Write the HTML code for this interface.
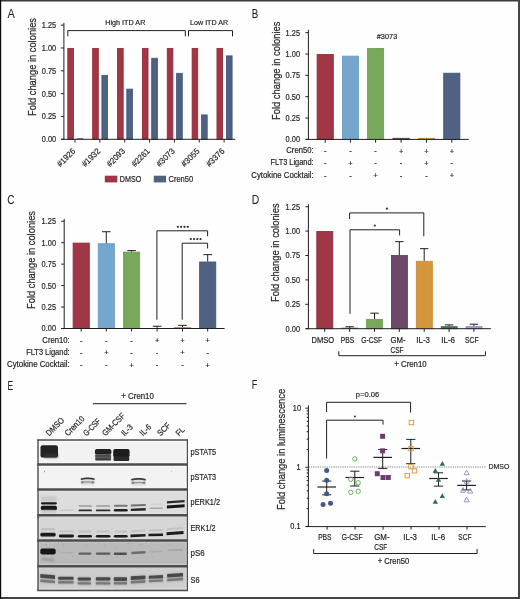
<!DOCTYPE html><html><head><meta charset="utf-8"><style>html,body{margin:0;padding:0;background:#fff;}svg{display:block;will-change:transform;filter:blur(0.25px);}body{-webkit-font-smoothing:antialiased;}text{font-family:"Liberation Sans",sans-serif;stroke:#231f20;stroke-width:0.2px;}</style></head><body>
<svg width="520" height="599" viewBox="0 0 520 599">
<rect x="0" y="0" width="520" height="599" fill="#fefefe"/>
<text x="7.40" y="18.00" font-size="12.2" fill="#231f20" textLength="7.30" lengthAdjust="spacingAndGlyphs" style="stroke-width:0.05px">A</text>
<text x="0.00" y="0.00" font-size="10.2" fill="#231f20" text-anchor="middle" textLength="98.00" lengthAdjust="spacingAndGlyphs" transform="translate(35.80,67.00) rotate(-90)">Fold change in colonies</text>
<rect x="67.80" y="48.38" width="5.65" height="90.92" fill="#a03745" stroke="#912335" stroke-width="0.8"/>
<rect x="76.60" y="138.20" width="6.50" height="1.10" fill="#506282"/>
<line x1="75.00" y1="139.30" x2="75.00" y2="142.50" stroke="#231f20" stroke-width="1"/>
<text x="0.00" y="0.00" font-size="8.4" fill="#231f20" text-anchor="end" textLength="22.00" lengthAdjust="spacingAndGlyphs" transform="translate(75.90,151.7) rotate(-45)">#1926</text>
<rect x="92.66" y="48.38" width="5.65" height="90.92" fill="#a03745" stroke="#912335" stroke-width="0.8"/>
<rect x="101.90" y="75.32" width="5.70" height="63.98" fill="#506282" stroke="#3d5479" stroke-width="0.8"/>
<line x1="99.85" y1="139.30" x2="99.85" y2="142.50" stroke="#231f20" stroke-width="1"/>
<text x="0.00" y="0.00" font-size="8.4" fill="#231f20" text-anchor="end" textLength="22.00" lengthAdjust="spacingAndGlyphs" transform="translate(100.75,151.7) rotate(-45)">#1932</text>
<rect x="117.52" y="48.38" width="5.65" height="90.92" fill="#a03745" stroke="#912335" stroke-width="0.8"/>
<rect x="126.80" y="89.11" width="5.70" height="50.19" fill="#506282" stroke="#3d5479" stroke-width="0.8"/>
<line x1="124.70" y1="139.30" x2="124.70" y2="142.50" stroke="#231f20" stroke-width="1"/>
<text x="0.00" y="0.00" font-size="8.4" fill="#231f20" text-anchor="end" textLength="22.00" lengthAdjust="spacingAndGlyphs" transform="translate(125.60,151.7) rotate(-45)">#2093</text>
<rect x="142.38" y="48.38" width="5.65" height="90.92" fill="#a03745" stroke="#912335" stroke-width="0.8"/>
<rect x="151.70" y="58.24" width="5.70" height="81.06" fill="#506282" stroke="#3d5479" stroke-width="0.8"/>
<line x1="149.55" y1="139.30" x2="149.55" y2="142.50" stroke="#231f20" stroke-width="1"/>
<text x="0.00" y="0.00" font-size="8.4" fill="#231f20" text-anchor="end" textLength="22.00" lengthAdjust="spacingAndGlyphs" transform="translate(150.45,151.7) rotate(-45)">#2261</text>
<rect x="167.24" y="48.38" width="5.65" height="90.92" fill="#a03745" stroke="#912335" stroke-width="0.8"/>
<rect x="176.60" y="73.31" width="5.70" height="65.99" fill="#506282" stroke="#3d5479" stroke-width="0.8"/>
<line x1="174.40" y1="139.30" x2="174.40" y2="142.50" stroke="#231f20" stroke-width="1"/>
<text x="0.00" y="0.00" font-size="8.4" fill="#231f20" text-anchor="end" textLength="22.00" lengthAdjust="spacingAndGlyphs" transform="translate(175.30,151.7) rotate(-45)">#3073</text>
<rect x="192.10" y="48.38" width="5.65" height="90.92" fill="#a03745" stroke="#912335" stroke-width="0.8"/>
<rect x="201.50" y="114.95" width="5.70" height="24.35" fill="#506282" stroke="#3d5479" stroke-width="0.8"/>
<line x1="199.25" y1="139.30" x2="199.25" y2="142.50" stroke="#231f20" stroke-width="1"/>
<text x="0.00" y="0.00" font-size="8.4" fill="#231f20" text-anchor="end" textLength="22.00" lengthAdjust="spacingAndGlyphs" transform="translate(200.15,151.7) rotate(-45)">#3055</text>
<rect x="216.96" y="48.38" width="5.65" height="90.92" fill="#a03745" stroke="#912335" stroke-width="0.8"/>
<rect x="226.40" y="55.87" width="5.70" height="83.43" fill="#506282" stroke="#3d5479" stroke-width="0.8"/>
<line x1="224.10" y1="139.30" x2="224.10" y2="142.50" stroke="#231f20" stroke-width="1"/>
<text x="0.00" y="0.00" font-size="8.4" fill="#231f20" text-anchor="end" textLength="22.00" lengthAdjust="spacingAndGlyphs" transform="translate(225.00,151.7) rotate(-45)">#3376</text>
<line x1="63.90" y1="22.80" x2="63.90" y2="139.80" stroke="#231f20" stroke-width="1"/>
<line x1="60.90" y1="139.30" x2="63.90" y2="139.30" stroke="#231f20" stroke-width="1"/>
<text x="56.20" y="142.25" font-size="8.6" fill="#231f20" text-anchor="end" textLength="14.39" lengthAdjust="spacingAndGlyphs">0.00</text>
<line x1="60.90" y1="116.47" x2="63.90" y2="116.47" stroke="#231f20" stroke-width="1"/>
<text x="56.20" y="119.42" font-size="8.6" fill="#231f20" text-anchor="end" textLength="14.39" lengthAdjust="spacingAndGlyphs">0.25</text>
<line x1="60.90" y1="93.64" x2="63.90" y2="93.64" stroke="#231f20" stroke-width="1"/>
<text x="56.20" y="96.59" font-size="8.6" fill="#231f20" text-anchor="end" textLength="14.39" lengthAdjust="spacingAndGlyphs">0.50</text>
<line x1="60.90" y1="70.81" x2="63.90" y2="70.81" stroke="#231f20" stroke-width="1"/>
<text x="56.20" y="73.76" font-size="8.6" fill="#231f20" text-anchor="end" textLength="14.39" lengthAdjust="spacingAndGlyphs">0.75</text>
<line x1="60.90" y1="47.98" x2="63.90" y2="47.98" stroke="#231f20" stroke-width="1"/>
<text x="56.20" y="50.93" font-size="8.6" fill="#231f20" text-anchor="end" textLength="14.39" lengthAdjust="spacingAndGlyphs">1.00</text>
<line x1="60.90" y1="25.15" x2="63.90" y2="25.15" stroke="#231f20" stroke-width="1"/>
<text x="56.20" y="28.10" font-size="8.6" fill="#231f20" text-anchor="end" textLength="14.39" lengthAdjust="spacingAndGlyphs">1.25</text>
<line x1="61.00" y1="139.30" x2="235.30" y2="139.30" stroke="#231f20" stroke-width="1"/>
<polyline points="67.80,36.30 67.80,30.60 185.30,30.60 185.30,36.30" stroke="#231f20" stroke-width="1" fill="none"/>
<text x="105.25" y="25.10" font-size="8.0" fill="#231f20" textLength="40.10" lengthAdjust="spacingAndGlyphs">High ITD AR</text>
<polyline points="188.50,36.30 188.50,30.60 232.50,30.60 232.50,36.30" stroke="#231f20" stroke-width="1" fill="none"/>
<text x="190.05" y="25.10" font-size="8.0" fill="#231f20" textLength="38.10" lengthAdjust="spacingAndGlyphs">Low ITD AR</text>
<rect x="104.80" y="175.70" width="12.50" height="6.70" fill="#a03745"/>
<text x="119.85" y="181.80" font-size="8.4" fill="#231f20" textLength="21.50" lengthAdjust="spacingAndGlyphs">DMSO</text>
<rect x="153.80" y="175.70" width="12.30" height="6.70" fill="#506282"/>
<text x="168.45" y="181.80" font-size="8.4" fill="#231f20" textLength="24.80" lengthAdjust="spacingAndGlyphs">Cren50</text>
<text x="251.80" y="17.70" font-size="12.2" fill="#231f20" textLength="6.50" lengthAdjust="spacingAndGlyphs" style="stroke-width:0.05px">B</text>
<text x="0.00" y="0.00" font-size="10.2" fill="#231f20" text-anchor="middle" textLength="98.40" lengthAdjust="spacingAndGlyphs" transform="translate(279.50,70.80) rotate(-90)">Fold change in colonies</text>
<rect x="317.10" y="54.40" width="16.20" height="85.00" fill="#a03745" stroke="#912335" stroke-width="0.8"/>
<line x1="325.20" y1="139.40" x2="325.20" y2="142.70" stroke="#231f20" stroke-width="1"/>
<rect x="342.40" y="56.11" width="16.20" height="83.29" fill="#74a6ce" stroke="#689bc5" stroke-width="0.8"/>
<line x1="350.50" y1="139.40" x2="350.50" y2="142.70" stroke="#231f20" stroke-width="1"/>
<rect x="367.50" y="48.42" width="16.20" height="90.98" fill="#78a85a" stroke="#699b4b" stroke-width="0.8"/>
<line x1="375.60" y1="139.40" x2="375.60" y2="142.70" stroke="#231f20" stroke-width="1"/>
<rect x="393.00" y="138.26" width="16.20" height="1.14" fill="#6c486a" stroke="#5b3859" stroke-width="0.8"/>
<line x1="401.10" y1="139.40" x2="401.10" y2="142.70" stroke="#231f20" stroke-width="1"/>
<rect x="418.40" y="138.26" width="16.20" height="1.14" fill="#d6963e" stroke="#c9882f" stroke-width="0.8"/>
<line x1="426.50" y1="139.40" x2="426.50" y2="142.70" stroke="#231f20" stroke-width="1"/>
<rect x="443.70" y="73.19" width="16.20" height="66.21" fill="#506282" stroke="#3d5479" stroke-width="0.8"/>
<line x1="451.80" y1="139.40" x2="451.80" y2="142.70" stroke="#231f20" stroke-width="1"/>
<line x1="308.40" y1="29.80" x2="308.40" y2="139.90" stroke="#231f20" stroke-width="1"/>
<line x1="305.40" y1="139.40" x2="308.40" y2="139.40" stroke="#231f20" stroke-width="1"/>
<text x="300.00" y="142.35" font-size="8.6" fill="#231f20" text-anchor="end" textLength="14.39" lengthAdjust="spacingAndGlyphs">0.00</text>
<line x1="305.40" y1="118.05" x2="308.40" y2="118.05" stroke="#231f20" stroke-width="1"/>
<text x="300.00" y="121.00" font-size="8.6" fill="#231f20" text-anchor="end" textLength="14.39" lengthAdjust="spacingAndGlyphs">0.25</text>
<line x1="305.40" y1="96.70" x2="308.40" y2="96.70" stroke="#231f20" stroke-width="1"/>
<text x="300.00" y="99.65" font-size="8.6" fill="#231f20" text-anchor="end" textLength="14.39" lengthAdjust="spacingAndGlyphs">0.50</text>
<line x1="305.40" y1="75.35" x2="308.40" y2="75.35" stroke="#231f20" stroke-width="1"/>
<text x="300.00" y="78.30" font-size="8.6" fill="#231f20" text-anchor="end" textLength="14.39" lengthAdjust="spacingAndGlyphs">0.75</text>
<line x1="305.40" y1="54.00" x2="308.40" y2="54.00" stroke="#231f20" stroke-width="1"/>
<text x="300.00" y="56.95" font-size="8.6" fill="#231f20" text-anchor="end" textLength="14.39" lengthAdjust="spacingAndGlyphs">1.00</text>
<line x1="305.40" y1="32.65" x2="308.40" y2="32.65" stroke="#231f20" stroke-width="1"/>
<text x="300.00" y="35.60" font-size="8.6" fill="#231f20" text-anchor="end" textLength="14.39" lengthAdjust="spacingAndGlyphs">1.25</text>
<line x1="305.80" y1="139.40" x2="468.80" y2="139.40" stroke="#231f20" stroke-width="1"/>
<text x="376.75" y="38.60" font-size="8.0" fill="#231f20" textLength="20.50" lengthAdjust="spacingAndGlyphs">#3073</text>
<text x="286.25" y="153.40" font-size="8.4" fill="#231f20" textLength="27.40" lengthAdjust="spacingAndGlyphs">Cren50:</text>
<text x="325.20" y="153.40" font-size="7.4" fill="#231f20" text-anchor="middle">-</text>
<text x="350.50" y="153.40" font-size="7.4" fill="#231f20" text-anchor="middle">-</text>
<text x="375.60" y="153.40" font-size="7.4" fill="#231f20" text-anchor="middle">-</text>
<text x="401.10" y="154.00" font-size="7.4" fill="#231f20" text-anchor="middle">+</text>
<text x="426.50" y="154.00" font-size="7.4" fill="#231f20" text-anchor="middle">+</text>
<text x="451.80" y="154.00" font-size="7.4" fill="#231f20" text-anchor="middle">+</text>
<text x="270.55" y="165.40" font-size="8.4" fill="#231f20" textLength="43.10" lengthAdjust="spacingAndGlyphs">FLT3 Ligand:</text>
<text x="325.20" y="165.40" font-size="7.4" fill="#231f20" text-anchor="middle">-</text>
<text x="350.50" y="166.00" font-size="7.4" fill="#231f20" text-anchor="middle">+</text>
<text x="375.60" y="165.40" font-size="7.4" fill="#231f20" text-anchor="middle">-</text>
<text x="401.10" y="165.40" font-size="7.4" fill="#231f20" text-anchor="middle">-</text>
<text x="426.50" y="166.00" font-size="7.4" fill="#231f20" text-anchor="middle">+</text>
<text x="451.80" y="165.40" font-size="7.4" fill="#231f20" text-anchor="middle">-</text>
<text x="251.25" y="177.60" font-size="8.4" fill="#231f20" textLength="62.40" lengthAdjust="spacingAndGlyphs">Cytokine Cocktail:</text>
<text x="325.20" y="177.60" font-size="7.4" fill="#231f20" text-anchor="middle">-</text>
<text x="350.50" y="177.60" font-size="7.4" fill="#231f20" text-anchor="middle">-</text>
<text x="375.60" y="178.20" font-size="7.4" fill="#231f20" text-anchor="middle">+</text>
<text x="401.10" y="177.60" font-size="7.4" fill="#231f20" text-anchor="middle">-</text>
<text x="426.50" y="177.60" font-size="7.4" fill="#231f20" text-anchor="middle">-</text>
<text x="451.80" y="178.20" font-size="7.4" fill="#231f20" text-anchor="middle">+</text>
<text x="7.20" y="203.80" font-size="12.2" fill="#231f20" textLength="7.30" lengthAdjust="spacingAndGlyphs" style="stroke-width:0.05px">C</text>
<text x="0.00" y="0.00" font-size="10.2" fill="#231f20" text-anchor="middle" textLength="98.00" lengthAdjust="spacingAndGlyphs" transform="translate(34.70,260.00) rotate(-90)">Fold change in colonies</text>
<rect x="73.10" y="243.10" width="16.20" height="85.40" fill="#a03745" stroke="#912335" stroke-width="0.8"/>
<line x1="81.20" y1="328.50" x2="81.20" y2="331.50" stroke="#231f20" stroke-width="1"/>
<rect x="98.20" y="243.70" width="16.20" height="84.80" fill="#74a6ce" stroke="#689bc5" stroke-width="0.8"/>
<line x1="106.30" y1="243.30" x2="106.30" y2="231.72" stroke="#231f20" stroke-width="1"/>
<line x1="102.00" y1="231.72" x2="110.60" y2="231.72" stroke="#231f20" stroke-width="1"/>
<line x1="106.30" y1="328.50" x2="106.30" y2="331.50" stroke="#231f20" stroke-width="1"/>
<rect x="123.50" y="252.11" width="16.20" height="76.39" fill="#78a85a" stroke="#699b4b" stroke-width="0.8"/>
<line x1="131.60" y1="251.71" x2="131.60" y2="250.59" stroke="#231f20" stroke-width="1"/>
<line x1="127.30" y1="250.59" x2="135.90" y2="250.59" stroke="#231f20" stroke-width="1"/>
<line x1="131.60" y1="328.50" x2="131.60" y2="331.50" stroke="#231f20" stroke-width="1"/>
<rect x="148.60" y="327.99" width="17.00" height="0.51" fill="#3b2a3f"/>
<line x1="157.10" y1="327.99" x2="157.10" y2="326.27" stroke="#231f20" stroke-width="1"/>
<line x1="152.80" y1="326.27" x2="161.40" y2="326.27" stroke="#231f20" stroke-width="1"/>
<line x1="157.10" y1="328.50" x2="157.10" y2="331.50" stroke="#231f20" stroke-width="1"/>
<rect x="174.40" y="327.53" width="16.20" height="0.97" fill="#d6963e" stroke="#c9882f" stroke-width="0.8"/>
<line x1="182.50" y1="327.13" x2="182.50" y2="325.33" stroke="#231f20" stroke-width="1"/>
<line x1="178.20" y1="325.33" x2="186.80" y2="325.33" stroke="#231f20" stroke-width="1"/>
<line x1="182.50" y1="328.50" x2="182.50" y2="331.50" stroke="#231f20" stroke-width="1"/>
<rect x="199.60" y="261.98" width="16.20" height="66.52" fill="#506282" stroke="#3d5479" stroke-width="0.8"/>
<line x1="207.70" y1="261.58" x2="207.70" y2="254.63" stroke="#231f20" stroke-width="1"/>
<line x1="203.40" y1="254.63" x2="212.00" y2="254.63" stroke="#231f20" stroke-width="1"/>
<line x1="207.70" y1="328.50" x2="207.70" y2="331.50" stroke="#231f20" stroke-width="1"/>
<line x1="64.20" y1="218.80" x2="64.20" y2="329.00" stroke="#231f20" stroke-width="1"/>
<line x1="61.20" y1="328.50" x2="64.20" y2="328.50" stroke="#231f20" stroke-width="1"/>
<text x="56.00" y="331.45" font-size="8.6" fill="#231f20" text-anchor="end" textLength="14.39" lengthAdjust="spacingAndGlyphs">0.00</text>
<line x1="61.20" y1="307.05" x2="64.20" y2="307.05" stroke="#231f20" stroke-width="1"/>
<text x="56.00" y="310.00" font-size="8.6" fill="#231f20" text-anchor="end" textLength="14.39" lengthAdjust="spacingAndGlyphs">0.25</text>
<line x1="61.20" y1="285.60" x2="64.20" y2="285.60" stroke="#231f20" stroke-width="1"/>
<text x="56.00" y="288.55" font-size="8.6" fill="#231f20" text-anchor="end" textLength="14.39" lengthAdjust="spacingAndGlyphs">0.50</text>
<line x1="61.20" y1="264.15" x2="64.20" y2="264.15" stroke="#231f20" stroke-width="1"/>
<text x="56.00" y="267.10" font-size="8.6" fill="#231f20" text-anchor="end" textLength="14.39" lengthAdjust="spacingAndGlyphs">0.75</text>
<line x1="61.20" y1="242.70" x2="64.20" y2="242.70" stroke="#231f20" stroke-width="1"/>
<text x="56.00" y="245.65" font-size="8.6" fill="#231f20" text-anchor="end" textLength="14.39" lengthAdjust="spacingAndGlyphs">1.00</text>
<line x1="61.20" y1="221.25" x2="64.20" y2="221.25" stroke="#231f20" stroke-width="1"/>
<text x="56.00" y="224.20" font-size="8.6" fill="#231f20" text-anchor="end" textLength="14.39" lengthAdjust="spacingAndGlyphs">1.25</text>
<line x1="61.20" y1="328.50" x2="224.60" y2="328.50" stroke="#231f20" stroke-width="1"/>
<polyline points="156.90,319.70 156.90,230.80 207.60,230.80 207.60,236.20" stroke="#231f20" stroke-width="1" fill="none"/>
<polyline points="182.20,319.70 182.20,243.20 207.60,243.20 207.60,248.50" stroke="#231f20" stroke-width="1" fill="none"/>
<circle cx="177.90" cy="226.8" r="1.15" fill="#333"/>
<circle cx="190.80" cy="239.1" r="1.15" fill="#333"/>
<circle cx="181.20" cy="226.8" r="1.15" fill="#333"/>
<circle cx="194.05" cy="239.1" r="1.15" fill="#333"/>
<circle cx="184.50" cy="226.8" r="1.15" fill="#333"/>
<circle cx="197.30" cy="239.1" r="1.15" fill="#333"/>
<circle cx="187.80" cy="226.8" r="1.15" fill="#333"/>
<circle cx="200.55" cy="239.1" r="1.15" fill="#333"/>
<text x="42.35" y="342.50" font-size="8.4" fill="#231f20" textLength="27.30" lengthAdjust="spacingAndGlyphs">Cren10:</text>
<text x="81.20" y="342.50" font-size="7.4" fill="#231f20" text-anchor="middle">-</text>
<text x="106.30" y="342.50" font-size="7.4" fill="#231f20" text-anchor="middle">-</text>
<text x="131.60" y="342.50" font-size="7.4" fill="#231f20" text-anchor="middle">-</text>
<text x="157.10" y="343.10" font-size="7.4" fill="#231f20" text-anchor="middle">+</text>
<text x="182.50" y="343.10" font-size="7.4" fill="#231f20" text-anchor="middle">+</text>
<text x="207.70" y="343.10" font-size="7.4" fill="#231f20" text-anchor="middle">+</text>
<text x="26.15" y="354.70" font-size="8.4" fill="#231f20" textLength="43.50" lengthAdjust="spacingAndGlyphs">FLT3 Ligand:</text>
<text x="81.20" y="354.70" font-size="7.4" fill="#231f20" text-anchor="middle">-</text>
<text x="106.30" y="355.30" font-size="7.4" fill="#231f20" text-anchor="middle">+</text>
<text x="131.60" y="354.70" font-size="7.4" fill="#231f20" text-anchor="middle">-</text>
<text x="157.10" y="354.70" font-size="7.4" fill="#231f20" text-anchor="middle">-</text>
<text x="182.50" y="355.30" font-size="7.4" fill="#231f20" text-anchor="middle">+</text>
<text x="207.70" y="354.70" font-size="7.4" fill="#231f20" text-anchor="middle">-</text>
<text x="7.05" y="367.00" font-size="8.4" fill="#231f20" textLength="62.60" lengthAdjust="spacingAndGlyphs">Cytokine Cocktail:</text>
<text x="81.20" y="367.00" font-size="7.4" fill="#231f20" text-anchor="middle">-</text>
<text x="106.30" y="367.00" font-size="7.4" fill="#231f20" text-anchor="middle">-</text>
<text x="131.60" y="367.60" font-size="7.4" fill="#231f20" text-anchor="middle">+</text>
<text x="157.10" y="367.00" font-size="7.4" fill="#231f20" text-anchor="middle">-</text>
<text x="182.50" y="367.00" font-size="7.4" fill="#231f20" text-anchor="middle">-</text>
<text x="207.70" y="367.60" font-size="7.4" fill="#231f20" text-anchor="middle">+</text>
<text x="251.80" y="203.50" font-size="12.2" fill="#231f20" textLength="7.50" lengthAdjust="spacingAndGlyphs" style="stroke-width:0.05px">D</text>
<text x="0.00" y="0.00" font-size="10.2" fill="#231f20" text-anchor="middle" textLength="98.60" lengthAdjust="spacingAndGlyphs" transform="translate(279.20,252.70) rotate(-90)">Fold change in colonies</text>
<rect x="316.80" y="231.50" width="16.00" height="97.20" fill="#a03745" stroke="#912335" stroke-width="0.8"/>
<line x1="324.70" y1="328.70" x2="324.70" y2="331.90" stroke="#231f20" stroke-width="1"/>
<rect x="341.30" y="327.72" width="16.80" height="0.98" fill="#506282"/>
<line x1="349.60" y1="327.72" x2="349.60" y2="326.75" stroke="#231f20" stroke-width="1"/>
<line x1="345.40" y1="326.75" x2="353.80" y2="326.75" stroke="#231f20" stroke-width="1"/>
<line x1="349.60" y1="328.70" x2="349.60" y2="331.90" stroke="#231f20" stroke-width="1"/>
<rect x="366.60" y="319.34" width="16.00" height="9.36" fill="#78a85a" stroke="#699b4b" stroke-width="0.8"/>
<line x1="374.50" y1="318.94" x2="374.50" y2="313.18" stroke="#231f20" stroke-width="1"/>
<line x1="370.30" y1="313.18" x2="378.70" y2="313.18" stroke="#231f20" stroke-width="1"/>
<line x1="374.50" y1="328.70" x2="374.50" y2="331.90" stroke="#231f20" stroke-width="1"/>
<rect x="391.40" y="255.51" width="16.00" height="73.19" fill="#6c486a" stroke="#5b3859" stroke-width="0.8"/>
<line x1="399.30" y1="255.11" x2="399.30" y2="241.64" stroke="#231f20" stroke-width="1"/>
<line x1="395.10" y1="241.64" x2="403.50" y2="241.64" stroke="#231f20" stroke-width="1"/>
<line x1="399.30" y1="328.70" x2="399.30" y2="331.90" stroke="#231f20" stroke-width="1"/>
<rect x="416.30" y="261.27" width="16.00" height="67.43" fill="#d6963e" stroke="#c9882f" stroke-width="0.8"/>
<line x1="424.20" y1="260.87" x2="424.20" y2="248.67" stroke="#231f20" stroke-width="1"/>
<line x1="420.00" y1="248.67" x2="428.40" y2="248.67" stroke="#231f20" stroke-width="1"/>
<line x1="424.20" y1="328.70" x2="424.20" y2="331.90" stroke="#231f20" stroke-width="1"/>
<rect x="441.20" y="326.66" width="16.00" height="2.04" fill="#3d7a5a" stroke="#2d6a4a" stroke-width="0.8"/>
<line x1="449.10" y1="326.26" x2="449.10" y2="324.89" stroke="#231f20" stroke-width="1"/>
<line x1="444.90" y1="324.89" x2="453.30" y2="324.89" stroke="#231f20" stroke-width="1"/>
<line x1="449.10" y1="328.70" x2="449.10" y2="331.90" stroke="#231f20" stroke-width="1"/>
<rect x="466.00" y="326.66" width="16.00" height="2.04" fill="#a09ad6" stroke="#8f89c8" stroke-width="0.8"/>
<line x1="473.90" y1="326.26" x2="473.90" y2="324.21" stroke="#231f20" stroke-width="1"/>
<line x1="469.70" y1="324.21" x2="478.10" y2="324.21" stroke="#231f20" stroke-width="1"/>
<line x1="473.90" y1="328.70" x2="473.90" y2="331.90" stroke="#231f20" stroke-width="1"/>
<line x1="308.40" y1="204.20" x2="308.40" y2="329.20" stroke="#231f20" stroke-width="1"/>
<line x1="305.40" y1="328.70" x2="308.40" y2="328.70" stroke="#231f20" stroke-width="1"/>
<text x="300.00" y="331.65" font-size="8.6" fill="#231f20" text-anchor="end" textLength="14.39" lengthAdjust="spacingAndGlyphs">0.00</text>
<line x1="305.40" y1="304.30" x2="308.40" y2="304.30" stroke="#231f20" stroke-width="1"/>
<text x="300.00" y="307.25" font-size="8.6" fill="#231f20" text-anchor="end" textLength="14.39" lengthAdjust="spacingAndGlyphs">0.25</text>
<line x1="305.40" y1="279.90" x2="308.40" y2="279.90" stroke="#231f20" stroke-width="1"/>
<text x="300.00" y="282.85" font-size="8.6" fill="#231f20" text-anchor="end" textLength="14.39" lengthAdjust="spacingAndGlyphs">0.50</text>
<line x1="305.40" y1="255.50" x2="308.40" y2="255.50" stroke="#231f20" stroke-width="1"/>
<text x="300.00" y="258.45" font-size="8.6" fill="#231f20" text-anchor="end" textLength="14.39" lengthAdjust="spacingAndGlyphs">0.75</text>
<line x1="305.40" y1="231.10" x2="308.40" y2="231.10" stroke="#231f20" stroke-width="1"/>
<text x="300.00" y="234.05" font-size="8.6" fill="#231f20" text-anchor="end" textLength="14.39" lengthAdjust="spacingAndGlyphs">1.00</text>
<line x1="305.40" y1="206.70" x2="308.40" y2="206.70" stroke="#231f20" stroke-width="1"/>
<text x="300.00" y="209.65" font-size="8.6" fill="#231f20" text-anchor="end" textLength="14.39" lengthAdjust="spacingAndGlyphs">1.25</text>
<line x1="305.80" y1="328.70" x2="490.90" y2="328.70" stroke="#231f20" stroke-width="1"/>
<text x="311.45" y="342.50" font-size="8.4" fill="#231f20" textLength="22.70" lengthAdjust="spacingAndGlyphs">DMSO</text>
<text x="340.75" y="342.50" font-size="8.4" fill="#231f20" textLength="13.40" lengthAdjust="spacingAndGlyphs">PBS</text>
<text x="361.15" y="342.50" font-size="8.4" fill="#231f20" textLength="21.00" lengthAdjust="spacingAndGlyphs">G-CSF</text>
<text x="390.45" y="342.50" font-size="8.4" fill="#231f20" textLength="15.10" lengthAdjust="spacingAndGlyphs">GM-</text>
<text x="416.35" y="342.50" font-size="8.4" fill="#231f20" textLength="13.60" lengthAdjust="spacingAndGlyphs">IL-3</text>
<text x="441.35" y="342.50" font-size="8.4" fill="#231f20" textLength="13.60" lengthAdjust="spacingAndGlyphs">IL-6</text>
<text x="465.05" y="342.50" font-size="8.4" fill="#231f20" textLength="13.60" lengthAdjust="spacingAndGlyphs">SCF</text>
<text x="390.45" y="352.50" font-size="8.4" fill="#231f20" textLength="13.20" lengthAdjust="spacingAndGlyphs">CSF</text>
<polyline points="349.60,219.00 349.60,212.90 423.80,212.90 423.80,236.30" stroke="#231f20" stroke-width="1" fill="none"/>
<polyline points="350.00,313.80 350.00,229.80 399.60,229.80 399.60,235.40" stroke="#231f20" stroke-width="1" fill="none"/>
<circle cx="386.9" cy="208.7" r="1.1" fill="#333"/>
<circle cx="374.8" cy="225.6" r="1.1" fill="#333"/>
<polyline points="338.80,351.30 338.80,355.70 485.40,355.70 485.40,351.30" stroke="#231f20" stroke-width="1" fill="none"/>
<text x="394.25" y="366.50" font-size="8.4" fill="#231f20" textLength="32.40" lengthAdjust="spacingAndGlyphs">+ Cren10</text>
<text x="7.60" y="389.60" font-size="12.2" fill="#231f20" textLength="5.70" lengthAdjust="spacingAndGlyphs" style="stroke-width:0.05px">E</text>
<text x="121.35" y="398.80" font-size="8.4" fill="#231f20" textLength="32.50" lengthAdjust="spacingAndGlyphs">+ Cren10</text>
<line x1="92.90" y1="403.70" x2="186.50" y2="403.70" stroke="#444" stroke-width="1.3"/>
<text x="0.00" y="0.00" font-size="8.4" fill="#231f20" textLength="22.18" lengthAdjust="spacingAndGlyphs" transform="translate(49.17,436.5) rotate(-45)">DMSO</text>
<text x="0.00" y="0.00" font-size="8.4" fill="#231f20" textLength="24.24" lengthAdjust="spacingAndGlyphs" transform="translate(67.92,436.5) rotate(-45)">Cren10</text>
<text x="0.00" y="0.00" font-size="8.4" fill="#231f20" textLength="20.90" lengthAdjust="spacingAndGlyphs" transform="translate(86.38,436.5) rotate(-45)">G-CSF</text>
<text x="0.00" y="0.00" font-size="8.4" fill="#231f20" textLength="28.49" lengthAdjust="spacingAndGlyphs" transform="translate(105.42,436.5) rotate(-45)">GM-CSF</text>
<text x="0.00" y="0.00" font-size="8.4" fill="#231f20" textLength="12.74" lengthAdjust="spacingAndGlyphs" transform="translate(124.38,436.5) rotate(-45)">IL-3</text>
<text x="0.00" y="0.00" font-size="8.4" fill="#231f20" textLength="12.74" lengthAdjust="spacingAndGlyphs" transform="translate(142.93,436.5) rotate(-45)">IL-6</text>
<text x="0.00" y="0.00" font-size="8.4" fill="#231f20" textLength="14.78" lengthAdjust="spacingAndGlyphs" transform="translate(160.48,436.5) rotate(-45)">SCF</text>
<text x="0.00" y="0.00" font-size="8.4" fill="#231f20" textLength="8.63" lengthAdjust="spacingAndGlyphs" transform="translate(179.03,436.5) rotate(-45)">FL</text>
<rect x="38.00" y="439.90" width="149.40" height="24.70" fill="#f2f2f2"/>
<rect x="38.90" y="441.40" width="147.30" height="21.70" fill="none" stroke="#fbfbfb" stroke-width="0.8"/>
<rect x="38.00" y="464.60" width="149.40" height="25.00" fill="#f3f3f3"/>
<rect x="38.90" y="466.10" width="147.30" height="22.00" fill="none" stroke="#fcfcfc" stroke-width="0.8"/>
<rect x="38.00" y="489.60" width="149.40" height="25.70" fill="#dddddd"/>
<rect x="38.90" y="491.10" width="147.30" height="22.70" fill="none" stroke="#ececec" stroke-width="0.8"/>
<rect x="38.00" y="515.30" width="149.40" height="25.20" fill="#d6d6d6"/>
<rect x="38.90" y="516.80" width="147.30" height="22.20" fill="none" stroke="#e6e6e6" stroke-width="0.8"/>
<rect x="38.00" y="540.50" width="149.40" height="25.70" fill="#bababa"/>
<rect x="38.90" y="542.00" width="147.30" height="22.70" fill="none" stroke="#d6d6d6" stroke-width="0.8"/>
<rect x="38.00" y="566.20" width="149.40" height="24.20" fill="#cecece"/>
<rect x="38.90" y="567.70" width="147.30" height="21.20" fill="none" stroke="#dedede" stroke-width="0.8"/>
<defs><filter id="bl" x="-20%" y="-60%" width="140%" height="220%"><feGaussianBlur stdDeviation="0.7"/></filter><filter id="bl2" x="-20%" y="-60%" width="140%" height="220%"><feGaussianBlur stdDeviation="1.0"/></filter><filter id="bl3" x="-20%" y="-60%" width="140%" height="220%"><feGaussianBlur stdDeviation="0.5"/></filter></defs>
<rect x="40.50" y="445.20" width="17.50" height="12.40" rx="2.2" fill="#202020" filter="url(#bl)"/>
<rect x="44.00" y="453.80" width="13.50" height="3.80" rx="1.2" fill="#303030" filter="url(#bl2)"/>
<rect x="94.90" y="449.00" width="16.50" height="5.80" rx="2" fill="#202020" filter="url(#bl)"/>
<rect x="95.20" y="454.20" width="15.90" height="6.40" rx="1.2" fill="#606060" filter="url(#bl)"/>
<rect x="95.50" y="455.20" width="15.30" height="1.60" rx="1.2" fill="#444" filter="url(#bl)"/>
<rect x="95.50" y="458.20" width="15.30" height="2.00" rx="1.2" fill="#3a3a3a" filter="url(#bl)"/>
<rect x="113.20" y="449.00" width="16.40" height="8.60" rx="2" fill="#1c1c1c" filter="url(#bl)"/>
<rect x="113.50" y="456.80" width="15.80" height="4.10" rx="1.2" fill="#2c2c2c" filter="url(#bl)"/>
<path d="M80.80,479.30 Q87.70,477.50 94.60,479.30" stroke="#222" stroke-width="1.8" fill="none" filter="url(#bl3)"/>
<rect x="81.10" y="480.00" width="13.20" height="4.40" rx="1.2" fill="#d2d2d2" filter="url(#bl2)"/>
<path d="M81.30,482.40 Q87.70,481.40 94.10,482.40" stroke="#9a9a9a" stroke-width="1.1" fill="none" filter="url(#bl3)"/>
<rect x="81.10" y="481.00" width="2.70" height="2.60" rx="1.2" fill="#8a8a8a" filter="url(#bl3)"/>
<rect x="91.60" y="481.00" width="2.70" height="2.60" rx="1.2" fill="#8a8a8a" filter="url(#bl3)"/>
<path d="M131.30,479.80 Q138.50,478.00 145.70,479.80" stroke="#222" stroke-width="1.8" fill="none" filter="url(#bl3)"/>
<rect x="131.60" y="480.50" width="13.80" height="4.40" rx="1.2" fill="#d2d2d2" filter="url(#bl2)"/>
<path d="M131.80,482.90 Q138.50,481.90 145.20,482.90" stroke="#9a9a9a" stroke-width="1.1" fill="none" filter="url(#bl3)"/>
<rect x="131.60" y="481.50" width="2.70" height="2.60" rx="1.2" fill="#8a8a8a" filter="url(#bl3)"/>
<rect x="142.70" y="481.50" width="2.70" height="2.60" rx="1.2" fill="#8a8a8a" filter="url(#bl3)"/>
<circle cx="44.5" cy="471.7" r="0.6" fill="#888"/>
<circle cx="171.5" cy="471.5" r="0.5" fill="#aaa"/>
<rect x="41.00" y="496.00" width="15.80" height="6.00" rx="1.2" fill="#cacaca" filter="url(#bl2)"/>
<rect x="40.90" y="502.20" width="16.00" height="2.30" rx="1.2" fill="#1e1e1e" filter="url(#bl3)"/>
<rect x="40.90" y="505.80" width="16.00" height="4.40" rx="1.5" fill="#161616" filter="url(#bl)"/>
<rect x="41.50" y="510.40" width="15.00" height="2.60" rx="1.2" fill="#c4c4c4" filter="url(#bl2)"/>
<rect x="60.00" y="509.50" width="13.50" height="1.30" rx="1.2" fill="#c6c6c6" filter="url(#bl)"/>
<rect x="78.50" y="505.20" width="13.50" height="1.60" rx="1.2" fill="#9a9a9a" filter="url(#bl)"/>
<rect x="78.50" y="509.50" width="13.50" height="1.80" rx="1.2" fill="#2e2e2e" filter="url(#bl3)"/>
<rect x="95.80" y="505.20" width="14.60" height="1.60" rx="1.2" fill="#9a9a9a" filter="url(#bl)"/>
<rect x="95.80" y="509.50" width="14.60" height="1.80" rx="1.2" fill="#2e2e2e" filter="url(#bl3)"/>
<rect x="113.80" y="504.80" width="13.90" height="2.00" rx="1.2" fill="#777" filter="url(#bl)"/>
<rect x="113.80" y="509.00" width="13.90" height="2.40" rx="1.2" fill="#222" filter="url(#bl3)"/>
<polygon points="130.80,504.60 145.70,504.00 145.70,506.00 130.80,506.60" fill="#707070" filter="url(#bl)"/>
<polygon points="130.80,508.70 145.70,508.10 145.70,510.40 130.80,511.00" fill="#222" filter="url(#bl3)"/>
<rect x="149.70" y="503.50" width="13.30" height="1.50" rx="1.2" fill="#d0d0d0" filter="url(#bl)"/>
<rect x="149.70" y="507.60" width="13.30" height="1.40" rx="1.2" fill="#a8a8a8" filter="url(#bl)"/>
<polygon points="166.90,501.30 184.60,500.10 184.60,502.30 166.90,503.50" fill="#2c2c2c" filter="url(#bl3)"/>
<polygon points="166.90,505.40 184.60,504.20 184.60,507.20 166.90,508.40" fill="#161616" filter="url(#bl3)"/>
<rect x="40.80" y="528.00" width="14.40" height="2.50" rx="1.2" fill="#c2c2c2" filter="url(#bl)"/>
<rect x="40.30" y="532.80" width="15.40" height="3.60" rx="1.5" fill="#1c1c1c" filter="url(#bl)"/>
<rect x="59.30" y="530.50" width="14.20" height="1.80" rx="1.2" fill="#c2c2c2" filter="url(#bl)"/>
<rect x="58.80" y="534.60" width="15.20" height="2.80" rx="1.5" fill="#1c1c1c" filter="url(#bl)"/>
<rect x="78.30" y="530.50" width="13.20" height="2.00" rx="1.2" fill="#c2c2c2" filter="url(#bl)"/>
<rect x="77.80" y="535.00" width="14.20" height="2.60" rx="1.5" fill="#1c1c1c" filter="url(#bl)"/>
<rect x="96.30" y="530.50" width="13.60" height="2.00" rx="1.2" fill="#c2c2c2" filter="url(#bl)"/>
<rect x="95.80" y="535.00" width="14.60" height="2.60" rx="1.5" fill="#1c1c1c" filter="url(#bl)"/>
<rect x="114.30" y="530.60" width="12.90" height="1.80" rx="1.2" fill="#c2c2c2" filter="url(#bl)"/>
<rect x="113.80" y="534.90" width="13.90" height="2.50" rx="1.5" fill="#1c1c1c" filter="url(#bl)"/>
<polygon points="131.00,530.20 145.00,529.60 145.00,531.60 131.00,532.20" fill="#c2c2c2" filter="url(#bl)"/>
<polygon points="130.50,534.60 145.50,534.00 145.50,536.60 130.50,537.20" fill="#1c1c1c" filter="url(#bl)"/>
<polygon points="149.00,529.60 162.50,529.20 162.50,531.20 149.00,531.60" fill="#c2c2c2" filter="url(#bl)"/>
<polygon points="148.50,533.80 163.00,533.40 163.00,535.90 148.50,536.30" fill="#1c1c1c" filter="url(#bl)"/>
<polygon points="167.00,528.20 183.00,527.00 183.00,529.10 167.00,530.30" fill="#c2c2c2" filter="url(#bl)"/>
<polygon points="166.50,532.30 183.50,531.10 183.50,534.10 166.50,535.30" fill="#1c1c1c" filter="url(#bl)"/>
<rect x="37.5" y="517" width="1.6" height="1.2" fill="#333"/>
<rect x="40.30" y="548.60" width="15.40" height="5.80" rx="2" fill="#181818" filter="url(#bl)"/>
<polygon points="42.00,557.80 54.00,559.00 54.00,561.20 42.00,560.00" fill="#909090" filter="url(#bl2)"/>
<rect x="59.40" y="552.00" width="14.10" height="1.60" rx="1.2" fill="#b0b0b0" filter="url(#bl)"/>
<rect x="78.50" y="552.50" width="12.90" height="2.30" rx="1.2" fill="#606060" filter="url(#bl)"/>
<rect x="95.80" y="552.50" width="14.60" height="2.30" rx="1.2" fill="#5c5c5c" filter="url(#bl)"/>
<rect x="113.80" y="552.60" width="13.20" height="2.40" rx="1.2" fill="#505050" filter="url(#bl)"/>
<polygon points="131.50,551.80 145.40,551.00 145.40,553.40 131.50,554.20" fill="#6a6a6a" filter="url(#bl)"/>
<polygon points="149.20,550.90 163.00,550.60 163.00,552.20 149.20,552.50" fill="#ababab" filter="url(#bl)"/>
<polygon points="167.70,549.40 183.00,548.80 183.00,550.70 167.70,551.30" fill="#a6a6a6" filter="url(#bl)"/>
<circle cx="46" cy="544.5" r="0.45" fill="#888"/>
<circle cx="54.6" cy="546.5" r="0.45" fill="#888"/>
<circle cx="63" cy="545.3" r="0.45" fill="#888"/>
<circle cx="72" cy="544" r="0.45" fill="#888"/>
<circle cx="86" cy="545" r="0.45" fill="#888"/>
<circle cx="99" cy="543.7" r="0.45" fill="#888"/>
<circle cx="104.8" cy="545.3" r="0.45" fill="#888"/>
<circle cx="116" cy="548" r="0.45" fill="#888"/>
<circle cx="128" cy="543.5" r="0.45" fill="#888"/>
<circle cx="140" cy="544.5" r="0.45" fill="#888"/>
<circle cx="170" cy="545" r="0.45" fill="#888"/>
<circle cx="153" cy="557" r="0.45" fill="#888"/>
<circle cx="71.5" cy="552.6" r="0.45" fill="#888"/>
<circle cx="58" cy="551" r="0.45" fill="#888"/>
<circle cx="88" cy="553" r="0.45" fill="#888"/>
<polygon points="40.30,573.70 55.00,574.90 55.00,583.70 40.30,582.50" fill="#a8a8a8" filter="url(#bl2)"/>
<polygon points="40.30,574.00 55.00,575.20 55.00,579.00 40.30,577.80" fill="#484848" filter="url(#bl)"/>
<polygon points="40.30,579.60 55.00,580.80 55.00,583.20 40.30,582.00" fill="#787878" filter="url(#bl)"/>
<rect x="58.20" y="576.50" width="15.30" height="7.50" rx="0.5" fill="#a8a8a8" filter="url(#bl2)"/>
<rect x="58.20" y="576.80" width="15.30" height="3.00" rx="0.8" fill="#484848" filter="url(#bl)"/>
<rect x="58.20" y="581.00" width="15.30" height="2.50" rx="0.5" fill="#787878" filter="url(#bl)"/>
<rect x="77.80" y="577.10" width="13.00" height="7.90" rx="0.5" fill="#a8a8a8" filter="url(#bl2)"/>
<rect x="77.80" y="577.40" width="13.00" height="3.10" rx="0.8" fill="#484848" filter="url(#bl)"/>
<rect x="77.80" y="582.30" width="13.00" height="2.20" rx="0.5" fill="#787878" filter="url(#bl)"/>
<rect x="95.80" y="576.90" width="14.60" height="8.00" rx="0.5" fill="#a8a8a8" filter="url(#bl2)"/>
<rect x="95.80" y="577.20" width="14.60" height="3.20" rx="0.8" fill="#484848" filter="url(#bl)"/>
<rect x="95.80" y="582.20" width="14.60" height="2.20" rx="0.5" fill="#787878" filter="url(#bl)"/>
<rect x="113.80" y="576.90" width="13.20" height="8.10" rx="0.5" fill="#a8a8a8" filter="url(#bl2)"/>
<rect x="113.80" y="577.20" width="13.20" height="3.80" rx="0.8" fill="#484848" filter="url(#bl)"/>
<rect x="113.80" y="582.00" width="13.20" height="2.50" rx="0.5" fill="#787878" filter="url(#bl)"/>
<polygon points="130.80,576.00 145.40,575.20 145.40,583.20 130.80,584.00" fill="#a8a8a8" filter="url(#bl2)"/>
<polygon points="130.80,576.30 145.40,575.50 145.40,579.20 130.80,580.00" fill="#484848" filter="url(#bl)"/>
<polygon points="130.80,581.00 145.40,580.20 145.40,582.70 130.80,583.50" fill="#787878" filter="url(#bl)"/>
<polygon points="148.80,575.40 163.00,574.80 163.00,582.10 148.80,582.70" fill="#a8a8a8" filter="url(#bl2)"/>
<polygon points="148.80,575.70 163.00,575.10 163.00,578.20 148.80,578.80" fill="#484848" filter="url(#bl)"/>
<polygon points="148.80,580.00 163.00,579.40 163.00,581.60 148.80,582.20" fill="#787878" filter="url(#bl)"/>
<polygon points="167.20,573.70 183.00,572.70 183.00,580.70 167.20,581.70" fill="#a8a8a8" filter="url(#bl2)"/>
<polygon points="167.20,574.00 183.00,573.00 183.00,576.40 167.20,577.40" fill="#484848" filter="url(#bl)"/>
<polygon points="167.20,578.80 183.00,577.80 183.00,580.20 167.20,581.20" fill="#787878" filter="url(#bl)"/>
<line x1="37.30" y1="439.90" x2="188.00" y2="439.90" stroke="#4d4d4d" stroke-width="1.5"/>
<line x1="37.30" y1="464.60" x2="188.00" y2="464.60" stroke="#4d4d4d" stroke-width="2.5"/>
<line x1="37.30" y1="489.60" x2="188.00" y2="489.60" stroke="#4d4d4d" stroke-width="2.5"/>
<line x1="37.30" y1="515.30" x2="188.00" y2="515.30" stroke="#4d4d4d" stroke-width="2.5"/>
<line x1="37.30" y1="540.50" x2="188.00" y2="540.50" stroke="#4d4d4d" stroke-width="2.5"/>
<line x1="37.30" y1="566.20" x2="188.00" y2="566.20" stroke="#4d4d4d" stroke-width="2.5"/>
<line x1="37.30" y1="590.40" x2="188.00" y2="590.40" stroke="#4d4d4d" stroke-width="1.5"/>
<line x1="38.00" y1="439.40" x2="38.00" y2="590.90" stroke="#4d4d4d" stroke-width="1.4"/>
<line x1="187.40" y1="439.40" x2="187.40" y2="590.90" stroke="#4d4d4d" stroke-width="1.2"/>
<text x="190.55" y="454.80" font-size="8.4" fill="#231f20" textLength="25.60" lengthAdjust="spacingAndGlyphs">pSTAT5</text>
<text x="190.55" y="480.00" font-size="8.4" fill="#231f20" textLength="25.60" lengthAdjust="spacingAndGlyphs">pSTAT3</text>
<text x="190.55" y="505.40" font-size="8.4" fill="#231f20" textLength="29.50" lengthAdjust="spacingAndGlyphs">pERK1/2</text>
<text x="190.55" y="530.50" font-size="8.4" fill="#231f20" textLength="24.90" lengthAdjust="spacingAndGlyphs">ERK1/2</text>
<text x="190.55" y="555.80" font-size="8.4" fill="#231f20" textLength="14.00" lengthAdjust="spacingAndGlyphs">pS6</text>
<text x="190.55" y="582.70" font-size="8.4" fill="#231f20" textLength="9.00" lengthAdjust="spacingAndGlyphs">S6</text>
<text x="251.80" y="389.40" font-size="12.2" fill="#231f20" textLength="5.60" lengthAdjust="spacingAndGlyphs" style="stroke-width:0.05px">F</text>
<text x="0.00" y="0.00" font-size="10.2" fill="#231f20" text-anchor="middle" textLength="121.20" lengthAdjust="spacingAndGlyphs" transform="translate(284.80,449.40) rotate(-90)">Fold change in luminescence</text>
<line x1="308.40" y1="405.30" x2="308.40" y2="527.00" stroke="#231f20" stroke-width="1"/>
<line x1="305.40" y1="526.40" x2="308.40" y2="526.40" stroke="#231f20" stroke-width="1"/>
<line x1="306.60" y1="508.61" x2="308.40" y2="508.61" stroke="#231f20" stroke-width="1"/>
<line x1="306.60" y1="498.20" x2="308.40" y2="498.20" stroke="#231f20" stroke-width="1"/>
<line x1="306.60" y1="490.82" x2="308.40" y2="490.82" stroke="#231f20" stroke-width="1"/>
<line x1="306.60" y1="485.09" x2="308.40" y2="485.09" stroke="#231f20" stroke-width="1"/>
<line x1="306.60" y1="480.41" x2="308.40" y2="480.41" stroke="#231f20" stroke-width="1"/>
<line x1="306.60" y1="476.45" x2="308.40" y2="476.45" stroke="#231f20" stroke-width="1"/>
<line x1="306.60" y1="473.03" x2="308.40" y2="473.03" stroke="#231f20" stroke-width="1"/>
<line x1="306.60" y1="470.00" x2="308.40" y2="470.00" stroke="#231f20" stroke-width="1"/>
<line x1="305.40" y1="467.30" x2="308.40" y2="467.30" stroke="#231f20" stroke-width="1"/>
<line x1="306.60" y1="449.51" x2="308.40" y2="449.51" stroke="#231f20" stroke-width="1"/>
<line x1="306.60" y1="439.10" x2="308.40" y2="439.10" stroke="#231f20" stroke-width="1"/>
<line x1="306.60" y1="431.72" x2="308.40" y2="431.72" stroke="#231f20" stroke-width="1"/>
<line x1="306.60" y1="425.99" x2="308.40" y2="425.99" stroke="#231f20" stroke-width="1"/>
<line x1="306.60" y1="421.31" x2="308.40" y2="421.31" stroke="#231f20" stroke-width="1"/>
<line x1="306.60" y1="417.35" x2="308.40" y2="417.35" stroke="#231f20" stroke-width="1"/>
<line x1="306.60" y1="413.93" x2="308.40" y2="413.93" stroke="#231f20" stroke-width="1"/>
<line x1="306.60" y1="410.90" x2="308.40" y2="410.90" stroke="#231f20" stroke-width="1"/>
<line x1="305.40" y1="408.20" x2="308.40" y2="408.20" stroke="#231f20" stroke-width="1"/>
<text x="301.00" y="411.15" font-size="8.6" fill="#231f20" text-anchor="end" textLength="8.23" lengthAdjust="spacingAndGlyphs">10</text>
<text x="300.60" y="470.25" font-size="8.6" fill="#231f20" text-anchor="end" textLength="4.11" lengthAdjust="spacingAndGlyphs">1</text>
<text x="300.60" y="529.35" font-size="8.6" fill="#231f20" text-anchor="end" textLength="10.28" lengthAdjust="spacingAndGlyphs">0.1</text>
<line x1="308.60" y1="467.00" x2="485.70" y2="467.00" stroke="#7a7a7a" stroke-width="0.8" stroke-dasharray="1.4,0.85"/>
<text x="488.45" y="469.40" font-size="7.9" fill="#231f20" textLength="20.90" lengthAdjust="spacingAndGlyphs">DMSO</text>
<line x1="305.80" y1="526.60" x2="485.80" y2="526.60" stroke="#231f20" stroke-width="1"/>
<line x1="327.10" y1="526.60" x2="327.10" y2="529.60" stroke="#231f20" stroke-width="1"/>
<line x1="355.08" y1="526.60" x2="355.08" y2="529.60" stroke="#231f20" stroke-width="1"/>
<line x1="383.06" y1="526.60" x2="383.06" y2="529.60" stroke="#231f20" stroke-width="1"/>
<line x1="411.04" y1="526.60" x2="411.04" y2="529.60" stroke="#231f20" stroke-width="1"/>
<line x1="439.02" y1="526.60" x2="439.02" y2="529.60" stroke="#231f20" stroke-width="1"/>
<line x1="467.00" y1="526.60" x2="467.00" y2="529.60" stroke="#231f20" stroke-width="1"/>
<text x="318.15" y="540.40" font-size="8.4" fill="#231f20" textLength="13.40" lengthAdjust="spacingAndGlyphs">PBS</text>
<text x="341.65" y="540.40" font-size="8.4" fill="#231f20" textLength="21.00" lengthAdjust="spacingAndGlyphs">G-CSF</text>
<text x="374.25" y="540.40" font-size="8.4" fill="#231f20" textLength="15.30" lengthAdjust="spacingAndGlyphs">GM-</text>
<text x="403.35" y="540.40" font-size="8.4" fill="#231f20" textLength="13.60" lengthAdjust="spacingAndGlyphs">IL-3</text>
<text x="431.35" y="540.40" font-size="8.4" fill="#231f20" textLength="13.80" lengthAdjust="spacingAndGlyphs">IL-6</text>
<text x="458.35" y="540.40" font-size="8.4" fill="#231f20" textLength="13.10" lengthAdjust="spacingAndGlyphs">SCF</text>
<text x="374.25" y="550.20" font-size="8.4" fill="#231f20" textLength="13.00" lengthAdjust="spacingAndGlyphs">CSF</text>
<polyline points="313.70,549.10 313.70,553.50 477.10,553.50 477.10,549.10" stroke="#231f20" stroke-width="1" fill="none"/>
<text x="377.65" y="564.30" font-size="8.4" fill="#231f20" textLength="31.50" lengthAdjust="spacingAndGlyphs">+ Cren50</text>
<polyline points="326.60,412.00 326.60,402.30 410.60,402.30 410.60,412.50" stroke="#231f20" stroke-width="1" fill="none"/>
<polyline points="326.60,458.50 326.60,420.20 383.00,420.20 383.00,424.60" stroke="#231f20" stroke-width="1" fill="none"/>
<text x="355.85" y="397.20" font-size="8.0" fill="#231f20" textLength="23.40" lengthAdjust="spacingAndGlyphs">p=0.06</text>
<circle cx="354.9" cy="416.4" r="1.0" fill="#333"/>
<line x1="317.40" y1="487.00" x2="336.00" y2="487.00" stroke="#231f20" stroke-width="1.2"/>
<line x1="326.70" y1="481.10" x2="326.70" y2="494.80" stroke="#231f20" stroke-width="1"/>
<line x1="322.10" y1="481.10" x2="331.30" y2="481.10" stroke="#231f20" stroke-width="1"/>
<line x1="322.10" y1="494.80" x2="331.30" y2="494.80" stroke="#231f20" stroke-width="1"/>
<line x1="345.50" y1="477.50" x2="364.10" y2="477.50" stroke="#231f20" stroke-width="1.2"/>
<line x1="354.80" y1="471.20" x2="354.80" y2="486.00" stroke="#231f20" stroke-width="1"/>
<line x1="350.20" y1="471.20" x2="359.40" y2="471.20" stroke="#231f20" stroke-width="1"/>
<line x1="350.20" y1="486.00" x2="359.40" y2="486.00" stroke="#231f20" stroke-width="1"/>
<line x1="373.40" y1="457.40" x2="392.00" y2="457.40" stroke="#231f20" stroke-width="1.2"/>
<line x1="382.70" y1="449.60" x2="382.70" y2="468.40" stroke="#231f20" stroke-width="1"/>
<line x1="378.10" y1="449.60" x2="387.30" y2="449.60" stroke="#231f20" stroke-width="1"/>
<line x1="378.10" y1="468.40" x2="387.30" y2="468.40" stroke="#231f20" stroke-width="1"/>
<line x1="401.50" y1="448.50" x2="420.10" y2="448.50" stroke="#231f20" stroke-width="1.2"/>
<line x1="410.80" y1="439.40" x2="410.80" y2="463.70" stroke="#231f20" stroke-width="1"/>
<line x1="406.20" y1="439.40" x2="415.40" y2="439.40" stroke="#231f20" stroke-width="1"/>
<line x1="406.20" y1="463.70" x2="415.40" y2="463.70" stroke="#231f20" stroke-width="1"/>
<line x1="429.20" y1="478.50" x2="447.80" y2="478.50" stroke="#231f20" stroke-width="1.2"/>
<line x1="438.50" y1="472.80" x2="438.50" y2="486.10" stroke="#231f20" stroke-width="1"/>
<line x1="433.90" y1="472.80" x2="443.10" y2="472.80" stroke="#231f20" stroke-width="1"/>
<line x1="433.90" y1="486.10" x2="443.10" y2="486.10" stroke="#231f20" stroke-width="1"/>
<line x1="457.30" y1="485.40" x2="475.90" y2="485.40" stroke="#231f20" stroke-width="1.2"/>
<line x1="466.60" y1="481.00" x2="466.60" y2="489.90" stroke="#231f20" stroke-width="1"/>
<line x1="462.00" y1="481.00" x2="471.20" y2="481.00" stroke="#231f20" stroke-width="1"/>
<line x1="462.00" y1="489.90" x2="471.20" y2="489.90" stroke="#231f20" stroke-width="1"/>
<circle cx="326.7" cy="470.5" r="2.5" fill="#3d5a87"/>
<circle cx="326.7" cy="480.3" r="2.5" fill="#3d5a87"/>
<circle cx="326.7" cy="493.8" r="2.5" fill="#3d5a87"/>
<circle cx="323.1" cy="504.4" r="2.5" fill="#3d5a87"/>
<circle cx="330.5" cy="503.3" r="2.5" fill="#3d5a87"/>
<circle cx="354.8" cy="458.9" r="2.2" fill="none" stroke="#6ab35a" stroke-width="1.0"/>
<circle cx="350.8" cy="479.2" r="2.2" fill="none" stroke="#6ab35a" stroke-width="1.0"/>
<circle cx="358.2" cy="482.8" r="2.2" fill="none" stroke="#6ab35a" stroke-width="1.0"/>
<circle cx="350.8" cy="492.3" r="2.2" fill="none" stroke="#6ab35a" stroke-width="1.0"/>
<circle cx="358.2" cy="491.3" r="2.2" fill="none" stroke="#6ab35a" stroke-width="1.0"/>
<rect x="380.10" y="433.80" width="5.00" height="5.00" fill="#6b3f6e"/>
<rect x="380.10" y="448.30" width="5.00" height="5.00" fill="#6b3f6e"/>
<rect x="374.80" y="471.20" width="5.00" height="5.00" fill="#6b3f6e"/>
<rect x="380.50" y="475.00" width="5.00" height="5.00" fill="#6b3f6e"/>
<rect x="385.80" y="475.00" width="5.00" height="5.00" fill="#6b3f6e"/>
<rect x="409.20" y="420.30" width="4.40" height="4.40" fill="none" stroke="#e39b3b" stroke-width="1.0"/>
<rect x="408.80" y="446.50" width="4.40" height="4.40" fill="none" stroke="#e39b3b" stroke-width="1.0"/>
<rect x="408.80" y="464.40" width="4.40" height="4.40" fill="none" stroke="#e39b3b" stroke-width="1.0"/>
<rect x="412.30" y="468.60" width="4.40" height="4.40" fill="none" stroke="#e39b3b" stroke-width="1.0"/>
<rect x="405.10" y="473.40" width="4.40" height="4.40" fill="none" stroke="#e39b3b" stroke-width="1.0"/>
<polygon points="442.30,461.10 444.96,465.86 439.64,465.86" fill="#2e6e4e"/>
<polygon points="435.30,467.90 437.96,472.66 432.64,472.66" fill="#2e6e4e"/>
<polygon points="438.50,477.00 441.16,481.76 435.84,481.76" fill="#2e6e4e"/>
<polygon points="442.30,493.20 444.96,497.96 439.64,497.96" fill="#2e6e4e"/>
<polygon points="435.30,499.00 437.96,503.76 432.64,503.76" fill="#2e6e4e"/>
<polygon points="466.60,470.10 469.17,474.69 464.04,474.69" fill="none" stroke="#8e8ac8" stroke-width="0.9"/>
<polygon points="466.60,478.60 469.17,483.19 464.04,483.19" fill="none" stroke="#8e8ac8" stroke-width="0.9"/>
<polygon points="463.00,487.60 465.56,492.19 460.44,492.19" fill="none" stroke="#8e8ac8" stroke-width="0.9"/>
<polygon points="470.20,488.50 472.76,493.09 467.63,493.09" fill="none" stroke="#8e8ac8" stroke-width="0.9"/>
<polygon points="466.60,497.20 469.17,501.79 464.04,501.79" fill="none" stroke="#8e8ac8" stroke-width="0.9"/>
<rect x="0.00" y="0.00" width="520.00" height="1.50" fill="#3c3c3c"/>
<rect x="518.00" y="0.00" width="2.00" height="599.00" fill="#444444"/>
<rect x="0.00" y="597.00" width="520.00" height="2.00" fill="#444444"/>
<rect x="0.00" y="0.00" width="1.20" height="599.00" fill="#0a0a0a"/>
</svg></body></html>
